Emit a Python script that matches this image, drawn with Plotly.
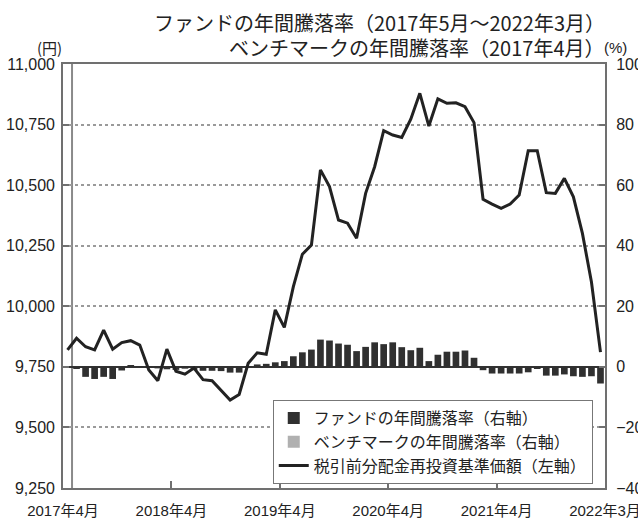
import plotly.graph_objects as go
import pandas as pd

# ---- data ----
months = [f"{p.year}年{p.month}月" for p in pd.period_range("2017-04", "2022-03", freq="M")]

nav = [9820, 9868, 9833, 9820, 9902, 9823, 9850, 9858, 9840, 9737,
       9693, 9823, 9732, 9720, 9745, 9697, 9693, 9655, 9613, 9636,
       9765, 9808, 9802, 9985, 9913, 10081, 10215, 10253, 10563, 10494,
       10356, 10343, 10281, 10466, 10576, 10725, 10707, 10697, 10772, 10879,
       10744, 10856, 10838, 10840, 10824, 10758, 10442, 10422, 10404, 10422,
       10459, 10642, 10642, 10469, 10466, 10528, 10452, 10301, 10100, 9811]

fund_return = [None, -0.7, -3.3, -4.0, -3.3, -4.0, -1.2, 0.4, 0.2, -0.3,
               -0.5, -0.8, -1.0, -0.6, -1.0, -1.3, -1.3, -1.4, -1.9, -1.9,
               0.2, 0.8, 1.0, 1.5, 1.9, 3.5, 4.8, 5.7, 9.0, 8.7,
               7.7, 7.3, 5.2, 6.6, 8.1, 7.5, 8.1, 6.5, 5.5, 6.3,
               1.9, 4.0, 5.0, 5.0, 5.4, 3.0, -1.1, -2.2, -2.2, -2.2,
               -2.2, -1.8, -0.7, -2.9, -2.9, -2.5, -3.1, -3.3, -3.1, -5.5]

bench_return = [0.0] + [None] * (len(months) - 1)

tick_months = ["2017年4月", "2018年4月", "2019年4月", "2020年4月", "2021年4月"]
end_month = "2022年3月"

title_line1 = "ファンドの年間騰落率（2017年5月～2022年3月）"
title_line2 = "ベンチマークの年間騰落率（2017年4月）"

# ---- figure ----
idx = list(range(len(months)))
tickvals = [months.index(m) - 0.5 for m in tick_months] + [months.index(end_month) + 0.5]
ticktext = tick_months + [end_month]

NUMFONT = "'Liberation Sans', Arial, 'Noto Sans CJK JP', sans-serif"
JPFONT = "'Noto Sans CJK JP', sans-serif"
AX = "#707070"

fig = go.Figure()
fig.add_trace(go.Bar(x=idx, y=fund_return, name="ファンドの年間騰落率（右軸）",
                     marker=dict(color="#303030", line=dict(width=0)), width=0.74,
                     yaxis="y", customdata=months, hovertemplate="%{customdata}: %{y}%<extra></extra>"))
fig.add_trace(go.Bar(x=idx, y=bench_return, name="ベンチマークの年間騰落率（右軸）",
                     marker=dict(color="#b0b0b0", line=dict(width=0)), width=0.74,
                     yaxis="y", customdata=months, hovertemplate="%{customdata}: %{y}%<extra></extra>"))
fig.add_trace(go.Scatter(x=idx, y=nav, name="税引前分配金再投資基準価額（左軸）", mode="lines",
                         line=dict(color="#222222", width=3), yaxis="y2",
                         customdata=months, hovertemplate="%{customdata}: %{y:,}円<extra></extra>"))

start_fund = months.index("2017年5月") - 0.5
fig.add_shape(type="line", xref="x", yref="paper", x0=start_fund, x1=start_fund, y0=0, y1=1,
              line=dict(color="#8a8a8a", width=2), layer="below")

fig.update_layout(
    width=638, height=520,
    margin=dict(l=63, r=33, t=64, b=32, autoexpand=False),
    paper_bgcolor="white", plot_bgcolor="white",
    barmode="overlay",
    showlegend=True,
    font=dict(family=NUMFONT, color="#222222"),
    xaxis=dict(range=[-0.5, len(months) - 0.5], tickmode="array", tickvals=tickvals, ticktext=ticktext,
               ticks="inside", ticklen=7, tickcolor=AX, tickwidth=1.5,
               showline=True, mirror=True, linecolor=AX, linewidth=2,
               showgrid=False, zeroline=False, automargin=False, ticklabeloverflow="allow",
               tickfont=dict(size=15, family=NUMFONT), ticklabelstandoff=8),
    yaxis=dict(side="right", range=[-40, 100], dtick=20, tick0=0,
               ticks="inside", ticklen=6, tickcolor=AX, tickwidth=1.5,
               showline=True, mirror=True, linecolor=AX, linewidth=2,
               showgrid=True, gridcolor="#9a9a9a", griddash="dot", gridwidth=1.5,
               zeroline=True, zerolinecolor="#333333", zerolinewidth=2, automargin=False,
               ticklabeloverflow="allow",
               tickfont=dict(size=16, family=NUMFONT), ticklabelstandoff=6),
    yaxis2=dict(side="left", overlaying="y", range=[9250, 11000], dtick=250, tick0=9250,
                tickformat=",d", ticks="inside", ticklen=6, tickcolor=AX, tickwidth=1.5,
                showline=False, showgrid=False, zeroline=False, automargin=False,
                ticklabeloverflow="allow",
                tickfont=dict(size=16, family=NUMFONT), ticklabelstandoff=7),
    legend=dict(x=0.387, y=0.2075, xanchor="left", yanchor="top",
                bgcolor="white", bordercolor="#777777", borderwidth=1,
                font=dict(size=16, family=JPFONT), tracegroupgap=0,
                itemwidth=30, traceorder="normal"),
    annotations=[
        dict(text=title_line1, xref="paper", yref="paper", x=1.003, y=1.099,
             xanchor="right", yanchor="middle", showarrow=False,
             font=dict(size=20, family=JPFONT)),
        dict(text=title_line2, xref="paper", yref="paper", x=1.003, y=1.040,
             xanchor="right", yanchor="middle", showarrow=False,
             font=dict(size=20, family=JPFONT)),
        dict(text="(円)", xref="paper", yref="paper", x=-0.024, y=1.040,
             xanchor="center", yanchor="middle", showarrow=False,
             font=dict(size=15, family=JPFONT)),
        dict(text="(%)", xref="paper", yref="paper", x=1.02, y=1.040,
             xanchor="center", yanchor="middle", showarrow=False,
             font=dict(size=15, family=NUMFONT)),
    ],
)

fig.write_html("out.html", config={"displayModeBar": False},
               post_script="document.body.style.margin='0';")
